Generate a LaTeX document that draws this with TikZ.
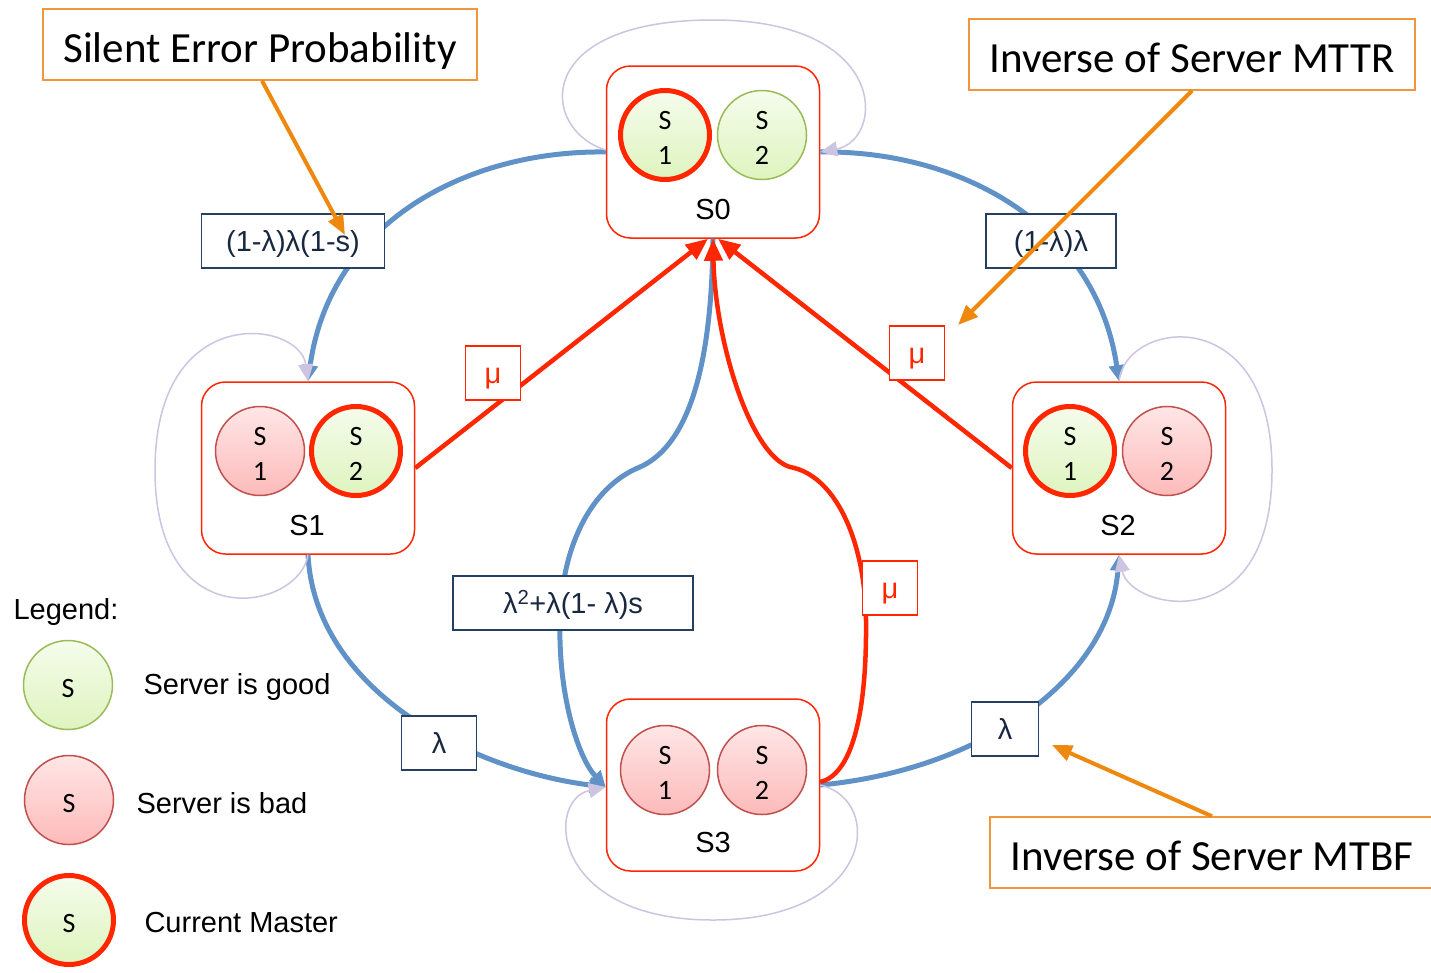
\documentclass[tikz,border=0pt]{standalone}
\usepackage{fontspec}
\setmainfont{Liberation Sans}
\newfontfamily\calfont{Carlito}
\usetikzlibrary{arrows.meta,calc}

\definecolor{edgeblue}{RGB}{96,146,200}
\definecolor{edgered}{RGB}{255,38,0}
\definecolor{loopc}{RGB}{204,196,224}
\definecolor{navy}{RGB}{38,64,100}
\definecolor{labtext}{RGB}{25,40,65}
\definecolor{orangearr}{RGB}{238,136,14}
\definecolor{orangebox}{RGB}{240,150,60}
\definecolor{goodtop}{RGB}{245,252,236}
\definecolor{goodbot}{RGB}{222,244,190}
\definecolor{goodline}{RGB}{155,187,89}
\definecolor{badtop}{RGB}{255,230,230}
\definecolor{badbot}{RGB}{253,186,186}
\definecolor{badline}{RGB}{192,80,77}

\tikzset{
  statebox/.style={draw=edgered, line width=1.5pt, rounded corners=24pt,
    minimum width=213pt, minimum height=172pt, fill=white, inner sep=0pt},
  srvtext/.style={align=center, yshift=-3pt,
    font=\calfont\fontsize{28}{35}\selectfont},
  srv/.style={circle, minimum size=89pt, inner sep=0pt, line width=1.5pt,
    label={[srvtext]center:#1}},
  good/.style={srv={#1}, top color=goodtop, bottom color=goodbot, draw=goodline},
  bad/.style={srv={#1}, top color=badtop, bottom color=badbot, draw=badline},
  master/.style={good={#1}, draw=edgered, line width=5pt},
  statename/.style={font=\fontsize{29}{35}\selectfont},
  legendtext/.style={anchor=west, font=\fontsize{29}{35}\selectfont},
  rate/.style={draw=navy, line width=1.5pt, fill=white, text=labtext,
    font=\fontsize{29}{35}\selectfont, inner sep=0pt, minimum height=54pt,
    text height=27pt, text depth=6pt},
  murate/.style={draw=edgered, line width=1.5pt, fill=white, text=edgered,
    font=\fontsize{29}{35}\selectfont, inner sep=0pt, minimum width=55pt,
    minimum height=54pt, text height=27pt, text depth=6pt},
  note/.style={draw=orangebox, line width=1.5pt, fill=white,
    font=\calfont\fontsize{43}{50}\selectfont, inner sep=0pt, minimum height=71pt,
    text height=45pt, text depth=10pt},
  bluearc/.style={draw=edgeblue, line width=5pt, -{Triangle[length=16pt,width=15pt]}},
  redarc/.style={draw=edgered, line width=4.5pt, -{Triangle[length=22pt,width=18pt]}},
  selfloop/.style={draw=loopc, line width=1.5pt, -{Triangle[length=17pt,width=15pt]}},
  pointer/.style={draw=orangearr, line width=4pt, -{Triangle[length=20pt,width=16pt]}},
}

\begin{document}
\begin{tikzpicture}[x=1pt,y=-1pt]
\useasboundingbox (0,0) rectangle (1431,972);

% states
\node[statebox] (s0) at (713,152) {};
\node[statebox] (s1) at (308,468) {};
\node[statebox] (s2) at (1119,468) {};
\node[statebox] (s3) at (713,785) {};

% transitions (blue: failures)
\draw[bluearc] (s0.west) .. controls (470,150) and (330,220) .. (s1.north);
\draw[bluearc] (s0.east) .. controls (955,150) and (1095,220) .. (s2.north);
\draw[bluearc] (s1.south) .. controls (315,690) and (470,770) .. ($(s3.west)+(0,2)$);
\draw[bluearc] (s3.east) .. controls (980,770) and (1110,680) .. (s2.south);
\draw[bluearc] (s0.south) .. controls (712,330) and (700,440) .. (640,467)
  .. controls (595,485) and (562,540) .. (560,620)
  .. controls (558,700) and (580,760) .. ($(s3.west)+(0,2)$);

% transitions (red: repairs)
\draw[redarc] (s1.east) -- ($(s0.south)+(-5,0)$);
\draw[redarc] (s2.west) -- ($(s0.south)+(5,0)$);
\draw[redarc] ($(s3.east)+(0,-3)$) .. controls (850,775) and (867,720) .. (866,620)
  .. controls (865,540) and (835,475) .. (790,467)
  .. controls (750,455) and (715,340) .. (s0.south);

% self loops
\draw[selfloop] ($(s0.west)+(0,-2)$) .. controls (540,130) and (530,20) .. (713,20)
  .. controls (890,20) and (885,140) .. (s0.east);
\draw[selfloop] (s1.south) .. controls (300,610) and (155,640) .. (155,470)
  .. controls (155,300) and (300,320) .. (s1.north);
\draw[selfloop] (s2.north) .. controls (1125,320) and (1272,300) .. (1272,470)
  .. controls (1272,640) and (1130,610) .. (s2.south);
\draw[selfloop] (s3.east) .. controls (885,800) and (875,920) .. (713,920)
  .. controls (551,920) and (545,800) .. ($(s3.west)+(0,2)$);

% servers inside each state
\node[master={S\\1}] (s0a) at (665,135) {};
\node[good={S\\2}]   (s0b) at (762,135) {};
\node[statename] (n0) at (713,210) {S0};

\node[bad={S\\1}]    (s1a) at (260,451) {};
\node[master={S\\2}] (s1b) at (356,451) {};
\node[statename] (n1) at (307,526) {S1};

\node[master={S\\1}] (s2a) at (1070,451) {};
\node[bad={S\\2}]    (s2b) at (1167,451) {};
\node[statename] (n2) at (1118,526) {S2};

\node[bad={S\\1}]    (s3a) at (665,770) {};
\node[bad={S\\2}]    (s3b) at (762,770) {};
\node[statename] (n3) at (713,843) {S3};

% rate labels
\node[rate, minimum width=183pt] (r01) at (293,241) {(1-λ)λ(1-s)};
\node[rate, minimum width=130pt] (r02) at (1051,241) {(1-λ)λ};
\node[rate, minimum width=240pt] (r03) at (573,603) {λ\textsuperscript{2}+λ(1- λ)s};
\node[rate, minimum width=75pt] (r13) at (439,743) {λ};
\node[rate, minimum width=67pt] (r32) at (1005,729) {λ};
\node[murate] (m10) at (493,373) {μ};
\node[murate] (m20) at (917,353) {μ};
\node[murate] (m30) at (890,588) {μ};

% legend
\node[legendtext] (lg) at (10,612) {Legend:};
\node[good={S}] (lga) at (68,685) {};
\node[bad={S}] (lgb) at (69,800) {};
\node[master={S}] (lgc) at (69,920) {};
\node[legendtext] (lta) at (140,687) {Server is good};
\node[legendtext] (ltb) at (133,803) {Server is bad};
\node[legendtext] (ltc) at (141,923) {Current Master};

% annotations
\node[note, minimum width=434pt] (na) at (260,44.5) {Silent Error Probability};
\node[note, minimum width=446pt] (nb) at (1192,54.5) {Inverse of Server MTTR};
\node[note, minimum width=444pt] (nc) at (1212,852.5) {Inverse of Server MTBF};
\coordinate (ta) at (345,235);
\coordinate (tb) at (958,325);
\coordinate (tc) at (1052,745);
\draw[pointer] ($(na.south)+(2,0)$) -- (ta);
\draw[pointer] (nb.south) -- (tb);
\draw[pointer] (nc.north) -- (tc);
\end{tikzpicture}
\end{document}
